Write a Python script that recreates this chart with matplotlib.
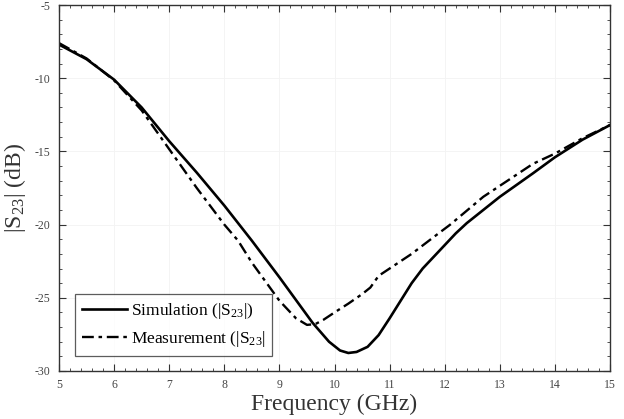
import numpy as np
import matplotlib
matplotlib.use("Agg")
import matplotlib.pyplot as plt
from matplotlib.ticker import MultipleLocator

plt.rcParams["font.family"] = ["Liberation Serif", "DejaVu Serif"]
plt.rcParams["mathtext.fontset"] = "custom"
plt.rcParams["mathtext.rm"] = "Liberation Serif"
plt.rcParams["mathtext.it"] = "Liberation Serif:italic"
plt.rcParams["axes.unicode_minus"] = False

# simulated |S23| (dB) vs frequency (GHz)
sim_freq = [5.0, 5.5, 6.0, 6.5, 7.0, 7.5, 8.0, 8.5, 9.0, 9.3, 9.6, 9.9,
            10.1, 10.25, 10.4, 10.6, 10.8, 11.0, 11.2, 11.4, 11.6, 11.8,
            12.0, 12.2, 12.4, 12.7, 13.0, 13.3, 13.6, 14.0, 14.5, 15.0]
sim_s23 = [-7.7, -8.7, -10.1, -12.0, -14.3, -16.45, -18.7, -21.1, -23.6,
           -25.15, -26.7, -28.0, -28.6, -28.77, -28.7, -28.35, -27.55, -26.4,
           -25.2, -24.0, -23.0, -22.2, -21.4, -20.6, -19.9, -19.0, -18.1,
           -17.3, -16.5, -15.4, -14.2, -13.2]

# measured |S23| (dB)
meas_freq = [5.0, 5.5, 6.0, 6.5, 7.0, 7.5, 8.0, 8.25, 8.5, 9.0, 9.3, 9.5,
             9.65, 9.8, 10.0, 10.25, 10.5, 10.65, 10.8, 11.0, 11.2, 11.4,
             11.8, 12.1, 12.4, 12.7, 13.0, 13.3, 13.6, 14.0, 14.5, 15.0]
meas_s23 = [-7.6, -8.65, -10.15, -12.2, -14.85, -17.5, -20.0, -21.1, -22.6,
            -25.2, -26.4, -26.85, -26.8, -26.5, -26.0, -25.4, -24.75, -24.3,
            -23.5, -23.0, -22.5, -22.0, -20.85, -20.0, -19.05, -18.1, -17.35,
            -16.6, -15.85, -15.15, -14.1, -13.2]

fig = plt.figure(figsize=(6.24, 4.19), dpi=100)
ax = fig.add_axes([0.0946, 0.1146, 0.883, 0.8734])

ax.plot(sim_freq, sim_s23, color="black", lw=1.9, ls="-",
        label="Simulation (|S$_{23}$|)")
ax.plot(meas_freq, meas_s23, color="black", lw=1.7, ls=(0, (5, 2, 1.5, 2)),
        label="Measurement (|S$_{23}$|")

ax.set_xlim(5, 15)
ax.set_ylim(-30, -5)
ax.xaxis.set_major_locator(MultipleLocator(1))
ax.xaxis.set_minor_locator(MultipleLocator(0.2))
ax.yaxis.set_major_locator(MultipleLocator(5))
ax.yaxis.set_minor_locator(MultipleLocator(1))
ax.tick_params(which="both", direction="in", top=True, right=True,
               labelsize=8.5, colors="#333333", labelcolor="#444444")
ax.tick_params(which="major", length=5, width=0.8, pad=6)
ax.tick_params(which="minor", length=2.5, width=0.6)
for sp in ax.spines.values():
    sp.set_linewidth(1.0)
    sp.set_color("#333333")
ax.grid(True, which="major", color="#f3f3f3", lw=0.6)

ax.set_xlabel("Frequency (GHz)", fontsize=17, color="#333333", labelpad=2)
ax.set_ylabel("|S$_{23}$| (dB)", fontsize=17, color="#333333", labelpad=5)

leg = ax.legend(loc="lower left", bbox_to_anchor=(0.029, 0.04), fontsize=12.5,
                frameon=True, fancybox=False, edgecolor="#333333",
                handlelength=2.6, borderpad=0.4, labelspacing=0.5,
                handletextpad=0.2, borderaxespad=0)
leg.get_frame().set_linewidth(0.9)

fig.savefig("out.png", dpi=100)
